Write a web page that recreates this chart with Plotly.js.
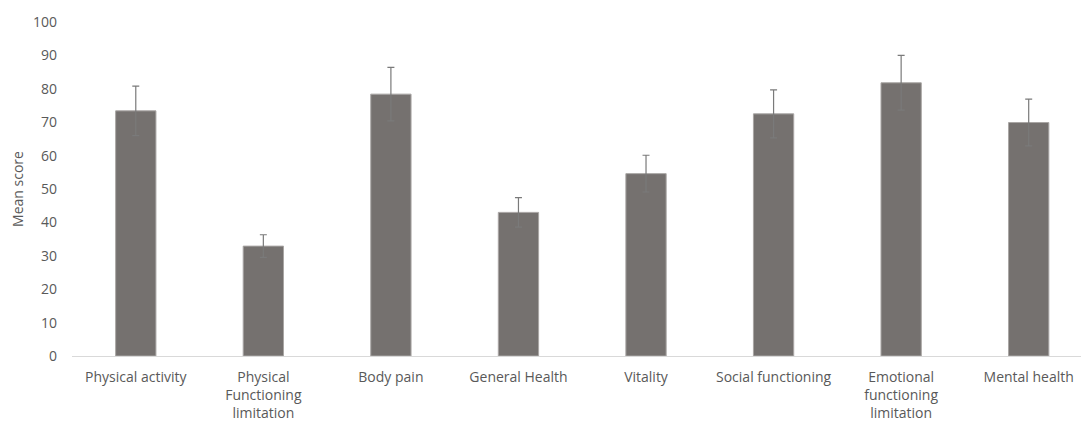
<!DOCTYPE html>
<html>
<head>
<meta charset="utf-8">
<script src="https://cdn.plot.ly/plotly-3.0.1.min.js"></script>
<style>
html,body{margin:0;padding:0;background:#fff;overflow:hidden;}
#chart{width:1081px;height:421px;}
</style>
</head>
<body>
<div id="chart"></div>
<script>
const categories = ["Physical activity","Physical Functioning limitation","Body pain","General Health","Vitality","Social functioning","Emotional functioning limitation","Mental health"];
const tickLabels = ["Physical activity","Physical<br>Functioning<br>limitation","Body pain","General Health","Vitality","Social functioning","Emotional<br>functioning<br>limitation","Mental health"];
const meanScores = [73.4, 32.9, 78.4, 43.0, 54.6, 72.5, 81.8, 69.9];
const errors = [7.4, 3.4, 8.0, 4.4, 5.5, 7.2, 8.2, 7.0];
const yTicks = [0,10,20,30,40,50,60,70,80,90,100];

const trace = {
  type: "bar",
  x: categories,
  y: meanScores,
  marker: {color: "#75716F", line: {color: "#a9a6a4", width: 1}},
  error_y: {type: "data", array: errors, visible: true, color: "#7a7a7a", thickness: 1.2, width: 3.5},
  hoverinfo: "none"
};

const layout = {
  width: 1081, height: 421,
  margin: {l: 72, r: 0, t: 22, b: 65},
  paper_bgcolor: "#ffffff",
  plot_bgcolor: "#ffffff",
  showlegend: false,
  bargap: 0.684,
  font: {family: "Open Sans, sans-serif", color: "#595959", size: 14},
  xaxis: {
    type: "category",
    tickmode: "array",
    tickvals: categories,
    ticktext: tickLabels,
    range: [-0.5, 7.41],
    showline: true, linecolor: "#d9d9d9", linewidth: 1,
    showgrid: false, zeroline: false, ticks: "",
    ticklabelstandoff: 8,
    tickfont: {family: "Open Sans, sans-serif", size: 14, color: "#595959"}
  },
  yaxis: {
    range: [0, 100],
    tickmode: "array",
    tickvals: yTicks,
    showgrid: false, zeroline: false, showline: false, ticks: "",
    ticklabelstandoff: 14,
    tickfont: {family: "Open Sans, sans-serif", size: 14, color: "#595959"},
    title: {text: "Mean score", font: {family: "Open Sans, sans-serif", size: 14, color: "#595959"}, standoff: 6}
  }
};

Plotly.newPlot("chart", [trace], layout, {displayModeBar: false, staticPlot: true});
</script>
</body>
</html>
